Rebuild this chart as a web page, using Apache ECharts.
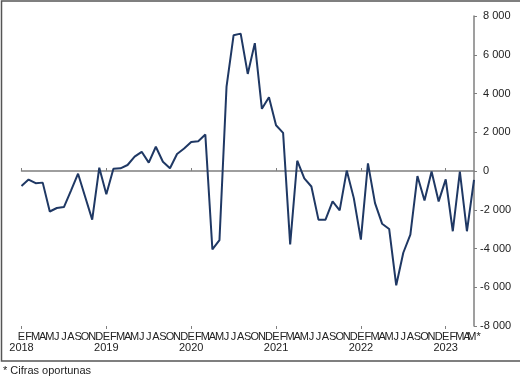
<!DOCTYPE html>
<html>
<head>
<meta charset="utf-8">
<script src="https://cdn.jsdelivr.net/npm/echarts@6/dist/echarts.min.js"></script>
<style>html,body{margin:0;padding:0;background:#fff}#c{width:520px;height:384px}</style>
</head>
<body>
<div id="c"></div>
<script>
var years = ['2018', '2019', '2020', '2021', '2022', '2023'];
var monthLetters = ['E', 'F', 'M', 'A', 'M', 'J', 'J', 'A', 'S', 'O', 'N', 'D'];
var lastMonthCount = 5; // 2023: E F M A M*
var values = [
  -770, -440, -630, -600, -2090, -1910, -1860, -1010, -140, -1330, -2510, 170,
  -1200, 120, 140, 310, 740, 990, 430, 1250, 480, 140, 880, 1160,
  1500, 1540, 1880, -4050, -3570, 4360, 7010, 7090, 5010, 6600, 3210, 3810,
  2360, 1970, -3790, 530, -380, -800, -2510, -2510, -1570, -2030, 20, -1400,
  -3540, 390, -1660, -2720, -2990, -5900, -4220, -3280, -260, -1520, -30, -1570,
  -430, -3110, -30, -3110, -460
];
var yTicks = { min: -8000, max: 8000, interval: 2000 };
var footnote = '* Cifras oportunas';

var categories = [];
var catMonth = [];
var catYear = [];
years.forEach(function (y, yi) {
  var n = (yi === years.length - 1) ? lastMonthCount : 12;
  for (var m = 0; m < n; m++) {
    var letter = monthLetters[m];
    if (yi === years.length - 1 && m === n - 1) letter += '*';
    categories.push(y + '-' + (m + 1));
    catMonth.push(letter);
    catYear.push(m === 0 ? y : '');
  }
});

function fmtNum(v) {
  var a = Math.abs(v).toString().replace(/\B(?=(\d{3})+(?!\d))/g, ' ');
  return (v < 0 ? '-' : ' ') + a;
}

var FONT = 'Liberation Sans, Arial, sans-serif';
var chart = echarts.init(document.getElementById('c'), null, { renderer: 'canvas' });
var tickInterval = function (i) { return i % 12 === 0; };
chart.setOption({
  animation: false,
  backgroundColor: '#fff',
  grid: { left: 21.5, right: 46, top: 16, bottom: 58, containLabel: false },
  xAxis: [
    {
      type: 'category', data: categories, boundaryGap: false, position: 'bottom',
      axisLine: { show: false, onZero: false },
      axisTick: { show: false },
      splitLine: { show: false },
      axisLabel: {
        interval: 0, margin: 5, fontSize: 11, lineHeight: 11, color: '#222', fontFamily: FONT,
        formatter: function (v, i) { return catYear[i] ? catMonth[i] + '\n' + catYear[i] : catMonth[i]; }
      }
    },
    {
      type: 'category', data: categories, boundaryGap: false, position: 'top',
      axisLine: { show: true, onZero: true, lineStyle: { color: '#7f7f7f', width: 1.5 } },
      axisTick: { show: true, interval: tickInterval, length: 3, lineStyle: { color: '#7f7f7f', width: 1 } },
      axisLabel: { show: false },
      splitLine: { show: false }
    },
    {
      type: 'category', data: categories, boundaryGap: false, position: 'bottom',
      axisLine: { show: true, onZero: true, lineStyle: { color: '#7f7f7f', width: 1.5, opacity: 0 } },
      axisTick: { show: true, interval: tickInterval, length: 3, lineStyle: { color: '#7f7f7f', width: 1 } },
      axisLabel: { show: false },
      splitLine: { show: false }
    }
  ],
  yAxis: {
    type: 'value', position: 'right', min: yTicks.min, max: yTicks.max, interval: yTicks.interval,
    axisLine: { show: true, onZero: false, lineStyle: { color: '#7f7f7f', width: 1.5 } },
    axisTick: { show: true, length: 3, lineStyle: { color: '#7f7f7f' } },
    splitLine: { show: false },
    axisLabel: {
      margin: 6, fontSize: 11, color: '#222', fontFamily: FONT, align: 'left',
      formatter: function (v) { return fmtNum(v); }
    }
  },
  series: [{
    type: 'line', data: values, xAxisIndex: 0, yAxisIndex: 0,
    symbol: 'none', smooth: false,
    lineStyle: { color: '#1f3864', width: 2 }
  }],
  graphic: [
    { type: 'rect', shape: { x: 1.5, y: 1, width: 540, height: 360 }, style: { fill: 'none', stroke: '#555', lineWidth: 1.5 }, silent: true },
    { type: 'text', left: 3, top: 365, style: { text: footnote, fontSize: 11, fill: '#222', fontFamily: FONT } }
  ]
});
</script>
</body>
</html>
